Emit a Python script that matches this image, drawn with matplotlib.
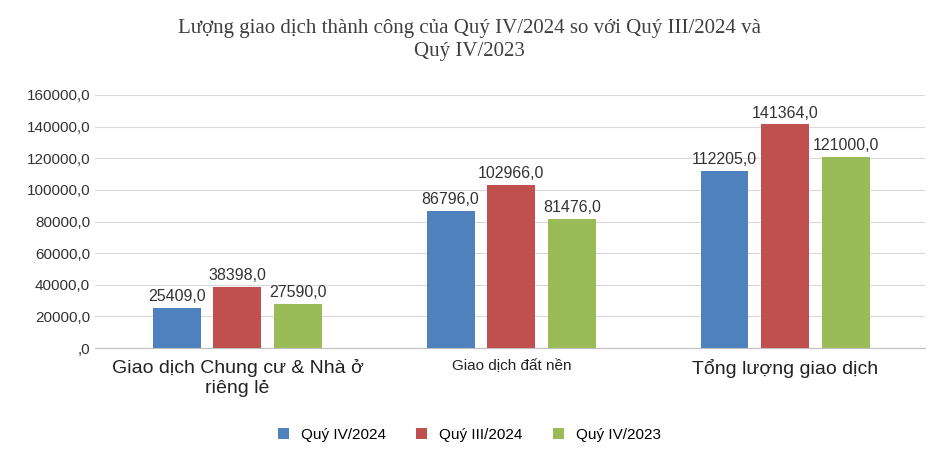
import matplotlib

matplotlib.use("Agg")
import matplotlib.pyplot as plt
import numpy as np

categories = ["Giao dịch Chung cư & Nhà ở\nriêng lẻ", "Giao dịch đất nền", "Tổng lượng giao dịch"]
series_names = ["Quý IV/2024", "Quý III/2024", "Quý IV/2023"]
q4_2024 = [25409.0, 86796.0, 112205.0]
q3_2024 = [38398.0, 102966.0, 141364.0]
q4_2023 = [27590.0, 81476.0, 121000.0]
colors = ["#4F81BD", "#C0504D", "#9BBB59"]

plt.rcParams["font.family"] = "Liberation Sans"
fig = plt.figure(figsize=(9.39, 4.72), dpi=100)
ax = fig.add_axes([95 / 939, 1 - 348 / 472, 830 / 939, 253 / 472])

x = np.arange(len(categories))
width = 0.175
offsets = [-0.222, 0.0, 0.222]
for vals, name, color, off in zip([q4_2024, q3_2024, q4_2023], series_names, colors, offsets):
    bars = ax.bar(x + off, vals, width, color=color, label=name, zorder=3)
    for b, v in zip(bars, vals):
        ax.text(b.get_x() + b.get_width() / 2, v + 2500, f"{v:.1f}".replace(".", ","),
                ha="center", va="bottom", fontsize=11.5, color="#333333")

ax.set_xlim(-0.52, 2.51)
ax.set_ylim(0, 160000)
yt = np.arange(0, 160001, 20000)
ax.set_yticks(yt)
ax.set_yticklabels([",0" if t == 0 else f"{t},0" for t in yt], fontsize=11, color="#333333")
ax.yaxis.grid(True, color="#d9d9d9", linewidth=0.8, zorder=0)
for s in ["top", "right", "left"]:
    ax.spines[s].set_visible(False)
ax.spines["bottom"].set_color("#bfbfbf")
ax.tick_params(length=0)
ax.set_xticks(x)
ax.set_xticklabels(categories, color="#222222")
for lbl, fs in zip(ax.get_xticklabels(), [14, 11, 14]):
    lbl.set_fontsize(fs)
ax.tick_params(axis="x", pad=8)

fig.text(0.5, 1 - 40 / 472, "Lượng giao dịch thành công của Quý IV/2024 so với Quý III/2024 và\nQuý IV/2023",
         ha="center", va="center", fontsize=15, family="Liberation Serif", color="#404040", linespacing=1.3)
fig.legend(loc="center", bbox_to_anchor=(0.5, 1 - 435 / 472), ncol=3, frameon=False, fontsize=11,
           handlelength=0.7, handleheight=0.7, columnspacing=2.0)

fig.savefig("out.png", dpi=100)
